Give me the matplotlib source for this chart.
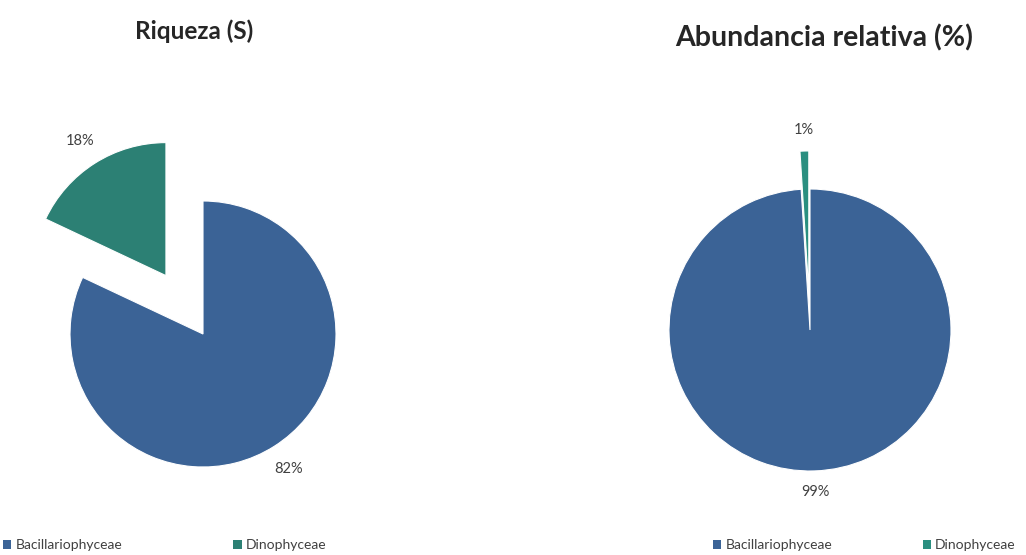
import numpy as np
import matplotlib.pyplot as plt
from matplotlib.patches import Patch

plt.rcParams['font.family'] = ['Lato', 'DejaVu Sans']

clases = ['Bacillariophyceae', 'Dinophyceae']
riqueza = [82, 18]
abundancia = [99, 1]
colores = ['#3B6396', '#2C8074']
colores_abund = ['#3B6396', '#2A8F80']

W, H = 1026, 555
fig = plt.figure(figsize=(W / 100, H / 100), dpi=100)
LIM = 1.8


def pie_axes(cx, cy, r):
    # place an axes so that radius 1 = r pixels, centred at (cx, cy) from top-left
    s = 2 * LIM * r
    ax = fig.add_axes([(cx - s / 2) / W, (H - cy - s / 2) / H, s / W, s / H])
    return ax


def fix_axes(ax, wedges):
    ax.set_xlim(-LIM, LIM)
    ax.set_ylim(-LIM, LIM)
    ax.set_aspect('equal')
    ax.axis('off')
    for w in wedges:
        w.set_clip_on(False)


ax1 = pie_axes(203, 334, 133)
w1, _, t1 = ax1.pie(riqueza, colors=colores, startangle=90, counterclock=False,
                    explode=[0, 0.52], autopct='%1.0f%%', pctdistance=1.2,
                    wedgeprops=dict(edgecolor='white', linewidth=0.8),
                    textprops=dict(fontsize=10.5, color='#404040'))
fix_axes(ax1, w1)

ax2 = pie_axes(810, 330, 141)
w2, _, t2 = ax2.pie(abundancia, colors=colores_abund, startangle=90, counterclock=False,
                    explode=[0, 0.27], autopct='%1.0f%%', pctdistance=1.15,
                    wedgeprops=dict(edgecolor='white', linewidth=0.8),
                    textprops=dict(fontsize=10.5, color='#404040'))
fix_axes(ax2, w2)

fig.text(194 / W, 1 - 31 / H, 'Riqueza (S)', ha='center', va='center',
         fontsize=17.5, fontweight='bold', color='#262626')
fig.text(824 / W, 1 - 38 / H, 'Abundancia relativa (%)', ha='center', va='center',
         fontsize=20.5, fontweight='bold', color='#262626')


# legends
def leyenda(x0, colors, spacing):
    handles = [Patch(facecolor=c) for c in colors]
    fig.legend(handles, clases, loc='center left', bbox_to_anchor=(x0 / W, 1 - 545 / H),
               ncol=2, frameon=False, fontsize=10, handlelength=0.6, handleheight=0.6,
               handletextpad=0.3, columnspacing=spacing, borderpad=0, borderaxespad=0,
               labelcolor='#404040')


leyenda(3, colores, 8.0)
leyenda(713, colores_abund, 6.5)

fig.savefig('out.png', dpi=100)
